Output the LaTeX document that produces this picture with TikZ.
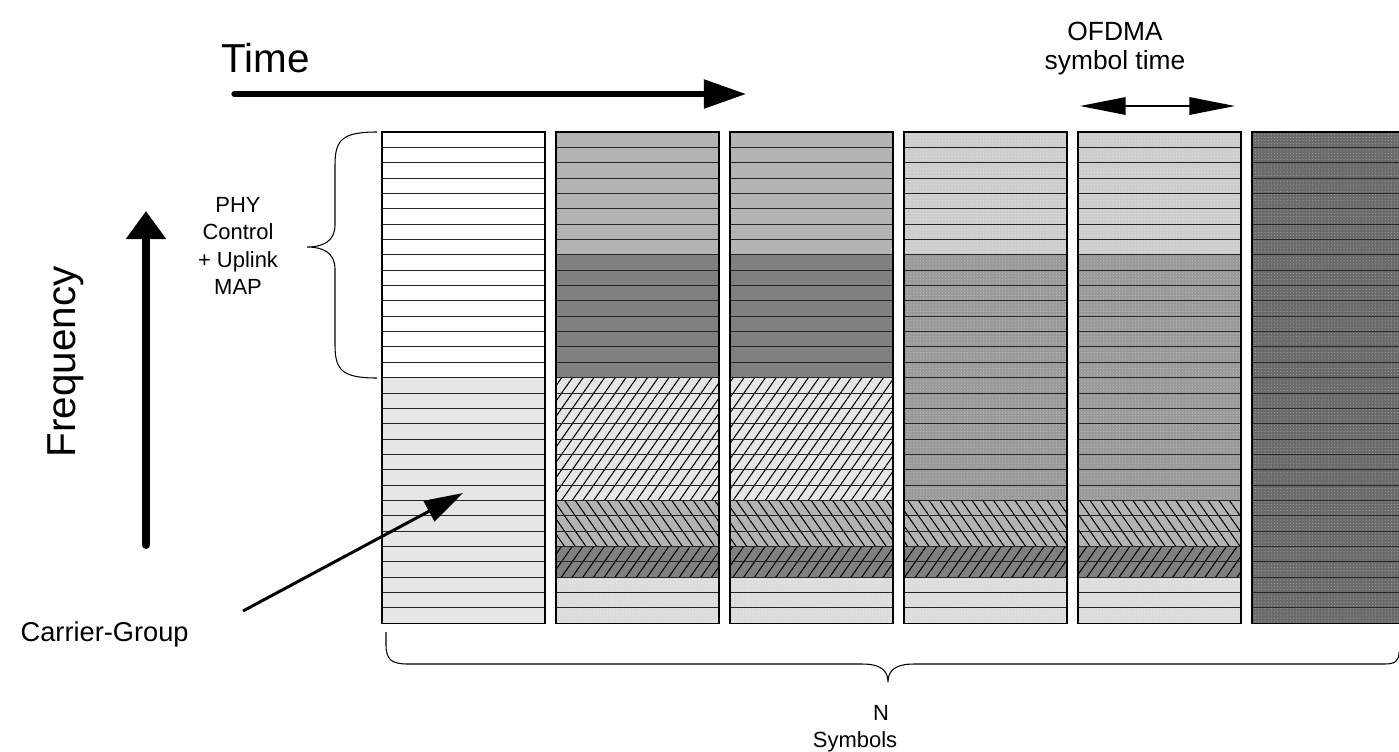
\documentclass[tikz,border=0pt]{standalone}
\usepackage{xcolor}
\usepackage{fontspec}
\setmainfont{Liberation Sans}
\usepackage{tikz}
\usetikzlibrary{arrows.meta,patterns.meta}

\definecolor{paleband}{HTML}{E6E6E6}
\definecolor{midband}{HTML}{B3B3B3}
\definecolor{darkband}{HTML}{808080}
\definecolor{dotpale}{HTML}{DCDCDC}
\definecolor{dotlight}{HTML}{CDCDCD}
\definecolor{dotmid}{HTML}{9A9A9A}
\definecolor{dotdark}{HTML}{6A6A6A}

\tikzset{
    fwdhatch/.style={pattern={Lines[angle=55,distance=5pt,line width=0.6pt]}},
    bwdhatch/.style={pattern={Lines[angle=-55,distance=5pt,line width=0.6pt]}},
    stipple/.style={pattern={Dots[distance=1.8pt,radius=0.35pt]},pattern color=white,opacity=0.35},
    rowline/.style={black!85,line width=0.5pt},
    symbox/.style={draw=black,line width=0.7pt},
    bigtxt/.style={inner sep=0pt,font=\fontsize{23}{27}\selectfont},
    smalltxt/.style={inner sep=0pt,font=\fontsize{12.5}{15.5}\selectfont},
    midtxt/.style={inner sep=0pt,font=\fontsize{15}{16.5}\selectfont}
}

\begin{document}
\begin{tikzpicture}[x=0.02cm,y=-0.02cm]
    % Here is the page frame
    \useasboundingbox (0,0) rectangle (1399,751);

    % first symbol: control part on top, carriers below
    \fill[white] (382,132) rectangle ++(163,245.6);
    \fill[paleband] (382,377.6) rectangle ++(163,245.6);

    % two symbols with bursts
    \foreach \c in {556,730} {
        \fill[midband] (\c,132) rectangle ++(163,122.8);
        \fill[darkband] (\c,254.8) rectangle ++(163,122.8);
        \fill[paleband] (\c,377.6) rectangle ++(163,122.8);
        \fill[fwdhatch] (\c,377.6) rectangle ++(163,122.8);
        \fill[dotpale] (\c,577.15) rectangle ++(163,46.05);
        \fill[stipple] (\c,577.15) rectangle ++(163,46.05);
    }

    % two stippled symbols
    \foreach \c in {904,1078} {
        \fill[dotlight] (\c,132) rectangle ++(163,122.8);
        \fill[dotmid] (\c,254.8) rectangle ++(163,245.6);
        \fill[dotpale] (\c,577.15) rectangle ++(163,46.05);
        \fill[stipple] (\c,132) rectangle ++(163,368.4);
        \fill[stipple] (\c,577.15) rectangle ++(163,46.05);
    }

    % shared hatched bursts
    \foreach \c in {556,730,904,1078} {
        \fill[midband] (\c,500.4) rectangle ++(163,46.05);
        \fill[bwdhatch] (\c,500.4) rectangle ++(163,46.05);
        \fill[darkband] (\c,546.45) rectangle ++(163,30.7);
        \fill[fwdhatch] (\c,546.45) rectangle ++(163,30.7);
    }

    % last symbol
    \fill[dotdark] (1252,132) rectangle ++(163,491.2);
    \fill[stipple] (1252,132) rectangle ++(163,491.2);

    % rows and borders of every symbol
    \foreach \c in {382,556,730,904,1078,1252} {
        \foreach \r in {1,...,31}
            \draw[rowline] (\c,{132+\r*15.35}) -- ++(163,0);
        \draw[symbox] (\c,132) rectangle ++(163,491.2);
    }

    % brace for the control part
    \draw[line width=0.6pt] (377,132) .. controls (342,132) and (335,140) .. (335,165)
        -- (335,225) .. controls (335,242) and (322,247) .. (307,247)
        .. controls (322,247) and (335,252) .. (335,269)
        -- (335,345) .. controls (335,370) and (342,378) .. (377,378);

    % brace under the symbols
    \draw[line width=0.6pt] (386,632) -- (386,645) .. controls (386,660) and (392,664) .. (408,664)
        -- (862,664) .. controls (880,664) and (888,670) .. (888,682)
        .. controls (888,670) and (896,664) .. (914,664)
        -- (1385,664) .. controls (1396,664) and (1399,660) .. (1399,652);

    % using node for text
    \node[bigtxt,anchor=base west] (timelbl) at (221,72) {Time};
    \node[bigtxt,rotate=90] (freqlbl) at (66,362) {Frequency};
    \node[smalltxt,align=center] (phylbl) at (238,246) {PHY\\Control\\+ Uplink\\MAP};
    \node[midtxt,align=center,anchor=north] (ofdmalbl) at (1115,22) {OFDMA\\symbol time};
    \node[inner sep=0pt,font=\fontsize{15.5}{18}\selectfont,anchor=base east] (cglbl) at (189,641) {Carrier-Group};
    \node[inner sep=0pt,font=\fontsize{12.5}{15}\selectfont,anchor=base] (nlbl) at (881,720) {N};
    \node[inner sep=0pt,font=\fontsize{12.5}{15}\selectfont,anchor=base] (symlbl) at (855,747) {Symbols};

    % Here are the arrows
    \coordinate (tstart) at (234,94);
    \coordinate (tend) at (746,94);
    \draw[line width=3pt,line cap=round,-{Triangle[length=24pt,width=16pt]}] (tstart) -- (tend);

    \coordinate (fstart) at (146,545);
    \coordinate (fend) at (146,211);
    \draw[line width=4.5pt,line cap=round,-{Triangle[length=16pt,width=22pt]}] (fstart) -- (fend);

    \coordinate (sleft) at (1080,106);
    \coordinate (sright) at (1235,106);
    \draw[line width=0.8pt,{Triangle[length=26pt,width=10pt]}-{Triangle[length=26pt,width=10pt]}] (sleft) -- (sright);

    \coordinate (cgtail) at (243,611);
    \coordinate (cgtip) at (463,493);
    \draw[line width=1.7pt,-{Triangle[length=22pt,width=13pt]}] (cgtail) -- (cgtip);
\end{tikzpicture}
\end{document}
